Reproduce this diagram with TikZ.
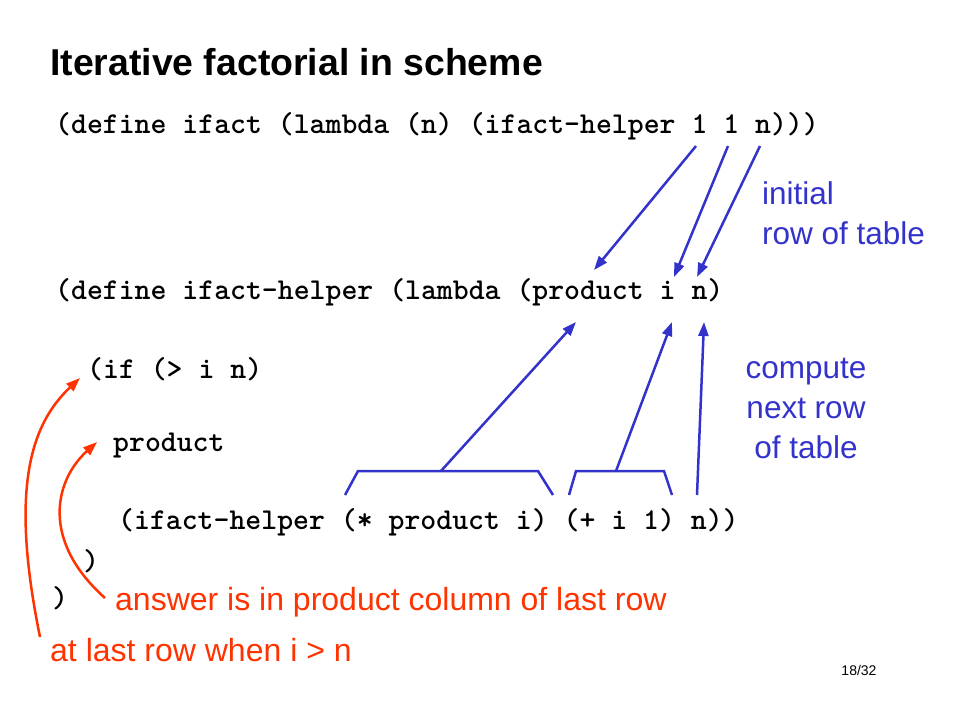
\documentclass[tikz,border=0pt]{standalone}
\usepackage{fontspec}
\setmainfont{Liberation Sans}
\usetikzlibrary{arrows.meta}
\definecolor{myblue}{RGB}{51,51,204}
\definecolor{myred}{RGB}{255,51,0}
\tikzset{
  code/.style={anchor=west,inner sep=0pt,font=\ttfamily\bfseries\fontsize{30.3}{32}\selectfont},
  title/.style={anchor=west,inner sep=0pt,font=\bfseries\fontsize{37.4}{40}\selectfont},
  bluetxt/.style={inner sep=0pt,text=myblue,font=\fontsize{31.5}{40}\selectfont},
  redtxt/.style={anchor=west,inner sep=0pt,text=myred,font=\fontsize{32}{36}\selectfont},
  barrow/.style={draw=myblue,line width=2.5pt,-{Triangle[length=14pt,width=10pt]}},
  bline/.style={draw=myblue,line width=2.5pt},
  rarrow/.style={draw=myred,line width=2.5pt,-{Triangle[length=14pt,width=10pt]}},
}
\begin{document}
\begin{tikzpicture}[x=1pt,y=-1pt]
\useasboundingbox (0,0) rectangle (960,720);
\node[title] (t) at (50,62) {Iterative factorial in scheme};
\node[code] (c1) at (55,126) {(define ifact (lambda (n) (ifact-helper 1 1 n)))};
\node[code] (c2) at (55,292) {(define ifact-helper (lambda (product i n)};
\node[code] (c3) at (87,369) {(if (> i n)};
\node[code] (c4) at (113,446) {product};
\node[code] (c5) at (118,522) {(ifact-helper (* product i) (+ i 1) n))};
\node[code] (c6) at (83,561) {)};
\node[code] (c7) at (52,598) {)};
\node[bluetxt,anchor=west,align=left] (b1) at (762,213) {initial\\row of table};
\node[bluetxt,align=center] (b2) at (806,408) {compute\\next row\\of table};
\node[redtxt] (r1) at (115,602) {answer is in product column of last row};
\node[redtxt] (r2) at (50,650) {at last row when i > n};
\node[anchor=center,inner sep=0pt,font=\fontsize{14}{16}\selectfont] (pg) at (859,670) {18/32};
% upper arrows
\coordinate (u1s) at (696,146); \coordinate (u1e) at (594,270);
\coordinate (u2s) at (728,146); \coordinate (u2e) at (674,277);
\coordinate (u3s) at (760,146); \coordinate (u3e) at (697,277);
\draw[barrow] (u1s) -- (u1e);
\draw[barrow] (u2s) -- (u2e);
\draw[barrow] (u3s) -- (u3e);
% brackets
\coordinate (k1a) at (345,495); \coordinate (k1b) at (358,471);
\coordinate (k1c) at (538,471); \coordinate (k1d) at (553,495);
\coordinate (k2a) at (569,495); \coordinate (k2b) at (576,471);
\coordinate (k2c) at (664,471); \coordinate (k2d) at (672,495);
\draw[bline,line join=miter] (k1a) -- (k1b) -- (k1c) -- (k1d);
\draw[bline,line join=miter] (k2a) -- (k2b) -- (k2c) -- (k2d);
\coordinate (l1s) at (441,471); \coordinate (l1e) at (576,322);
\coordinate (l2s) at (616,471); \coordinate (l2e) at (672,322);
\coordinate (l3s) at (697,495); \coordinate (l3e) at (704,322);
\draw[barrow] (l1s) -- (l1e);
\draw[barrow] (l2s) -- (l2e);
\draw[barrow] (l3s) -- (l3e);
% red curves
\coordinate (rc1s) at (40,637); \coordinate (rc1e) at (80,378);
\coordinate (rc2s) at (105,598); \coordinate (rc2e) at (97,442);
\draw[rarrow] (rc1s) .. controls (10,490) and (30,425) .. (rc1e);
\draw[rarrow] (rc2s) .. controls (40,540) and (55,480) .. (rc2e);
\end{tikzpicture}
\end{document}
